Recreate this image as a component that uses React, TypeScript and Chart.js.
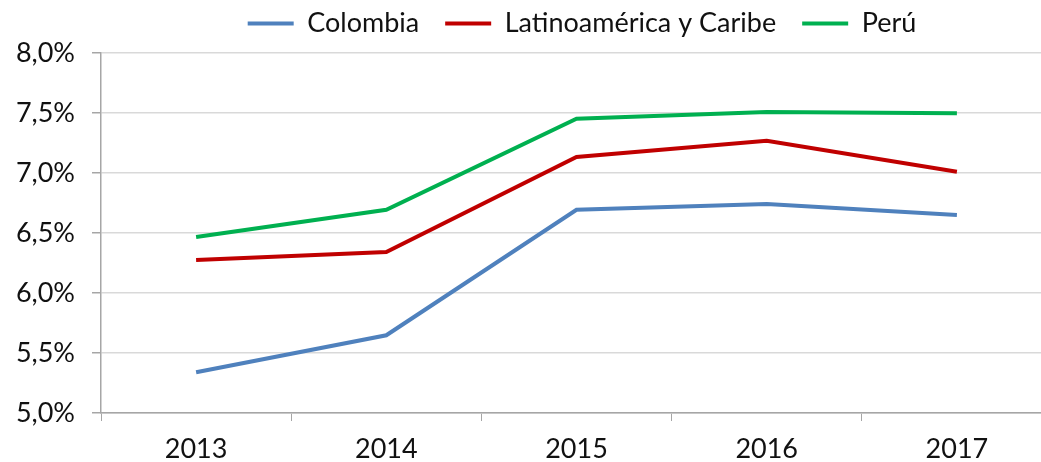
import React, { useEffect, useRef } from "react";
import { Chart, registerables } from "chart.js";

Chart.register(...registerables);

const years = ["2013", "2014", "2015", "2016", "2017"];
const colombia = [5.34, 5.648, 6.694, 6.742, 6.65];
const latam = [6.274, 6.341, 7.134, 7.268, 7.011];
const peru = [6.467, 6.694, 7.453, 7.508, 7.497];
const seriesNames = ["Colombia", "Latinoamérica y Caribe", "Perú"];
const seriesColors = ["#4F81BD", "#C00000", "#00B050"];

const FONT = "Lato";
const FS = 27;

const shiftLegend = {
  id: "shiftLegend",
  beforeLayout(chart: any) {
    const lg = chart.legend;
    if (lg && !lg.__patched) {
      const orig = lg.fit;
      lg.fit = function (this: any) {
        orig.call(this);
        this.height += 6;
      };
      lg.__patched = true;
    }
  },
  afterLayout(chart: any) {
    const lg = chart.legend;
    if (lg) {
      lg.left += 56;
      lg.right += 56;
    }
  },
};

export default function App() {
  const ref = useRef<HTMLCanvasElement | null>(null);
  useEffect(() => {
    if (!ref.current) return;
    const values = [colombia, latam, peru];
    const chart = new Chart(ref.current, {
      type: "line",
      data: {
        labels: years,
        datasets: seriesNames.map((name, i) => ({
          label: name,
          data: values[i],
          borderColor: seriesColors[i],
          backgroundColor: seriesColors[i],
          borderWidth: 4,
          pointRadius: 0,
          tension: 0,
        })),
      },
      plugins: [shiftLegend],
      options: {
        responsive: false,
        animation: false,
        layout: { padding: { left: 0, right: 0, top: -16, bottom: 0 } },
        plugins: {
          tooltip: { enabled: false },
          legend: {
            position: "top",
            labels: {
              font: { family: FONT, size: FS },
              color: "#111",
              boxWidth: 46,
              boxHeight: 4,
              padding: 26,
              generateLabels: (c: any) =>
                c.data.datasets.map((d: any, i: number) => ({
                  text: d.label,
                  fillStyle: d.borderColor,
                  strokeStyle: d.borderColor,
                  lineWidth: 0,
                  hidden: false,
                  datasetIndex: i,
                  fontColor: "#111",
                })),
            },
          },
        },
        scales: {
          x: {
            type: "category",
            offset: true,
            afterFit: (scale: any) => {
              scale.height = 49;
            },
            grid: {
              offset: true,
              drawOnChartArea: false,
              drawTicks: true,
              tickLength: 8,
              tickColor: "#a6a6a6",
              color: "#a6a6a6",
            },
            border: { color: "#a6a6a6", width: 1.5 },
            ticks: {
              font: { family: FONT, size: FS },
              color: "#111",
              padding: 12,
              maxRotation: 0,
            },
          },
          y: {
            min: 5,
            max: 8,
            afterFit: (scale: any) => {
              scale.width = 101;
            },
            grid: {
              color: "#d9d9d9",
              lineWidth: 1.5,
              drawTicks: true,
              tickLength: 9,
              tickColor: "#a6a6a6",
            },
            border: { color: "#a6a6a6", width: 1.5 },
            ticks: {
              stepSize: 0.5,
              font: { family: FONT, size: FS },
              color: "#111",
              padding: 17,
              callback: (v: any) => Number(v).toFixed(1).replace(".", ",") + "%",
            },
          },
        },
      },
    });
    return () => chart.destroy();
  }, []);
  return (
    <div style={{ position: "fixed", left: 0, top: 0, width: 1041, height: 462, overflow: "hidden", background: "#fff" }}>
      <canvas ref={ref} width={1052} height={462} style={{ display: "block" }} />
    </div>
  );
}
